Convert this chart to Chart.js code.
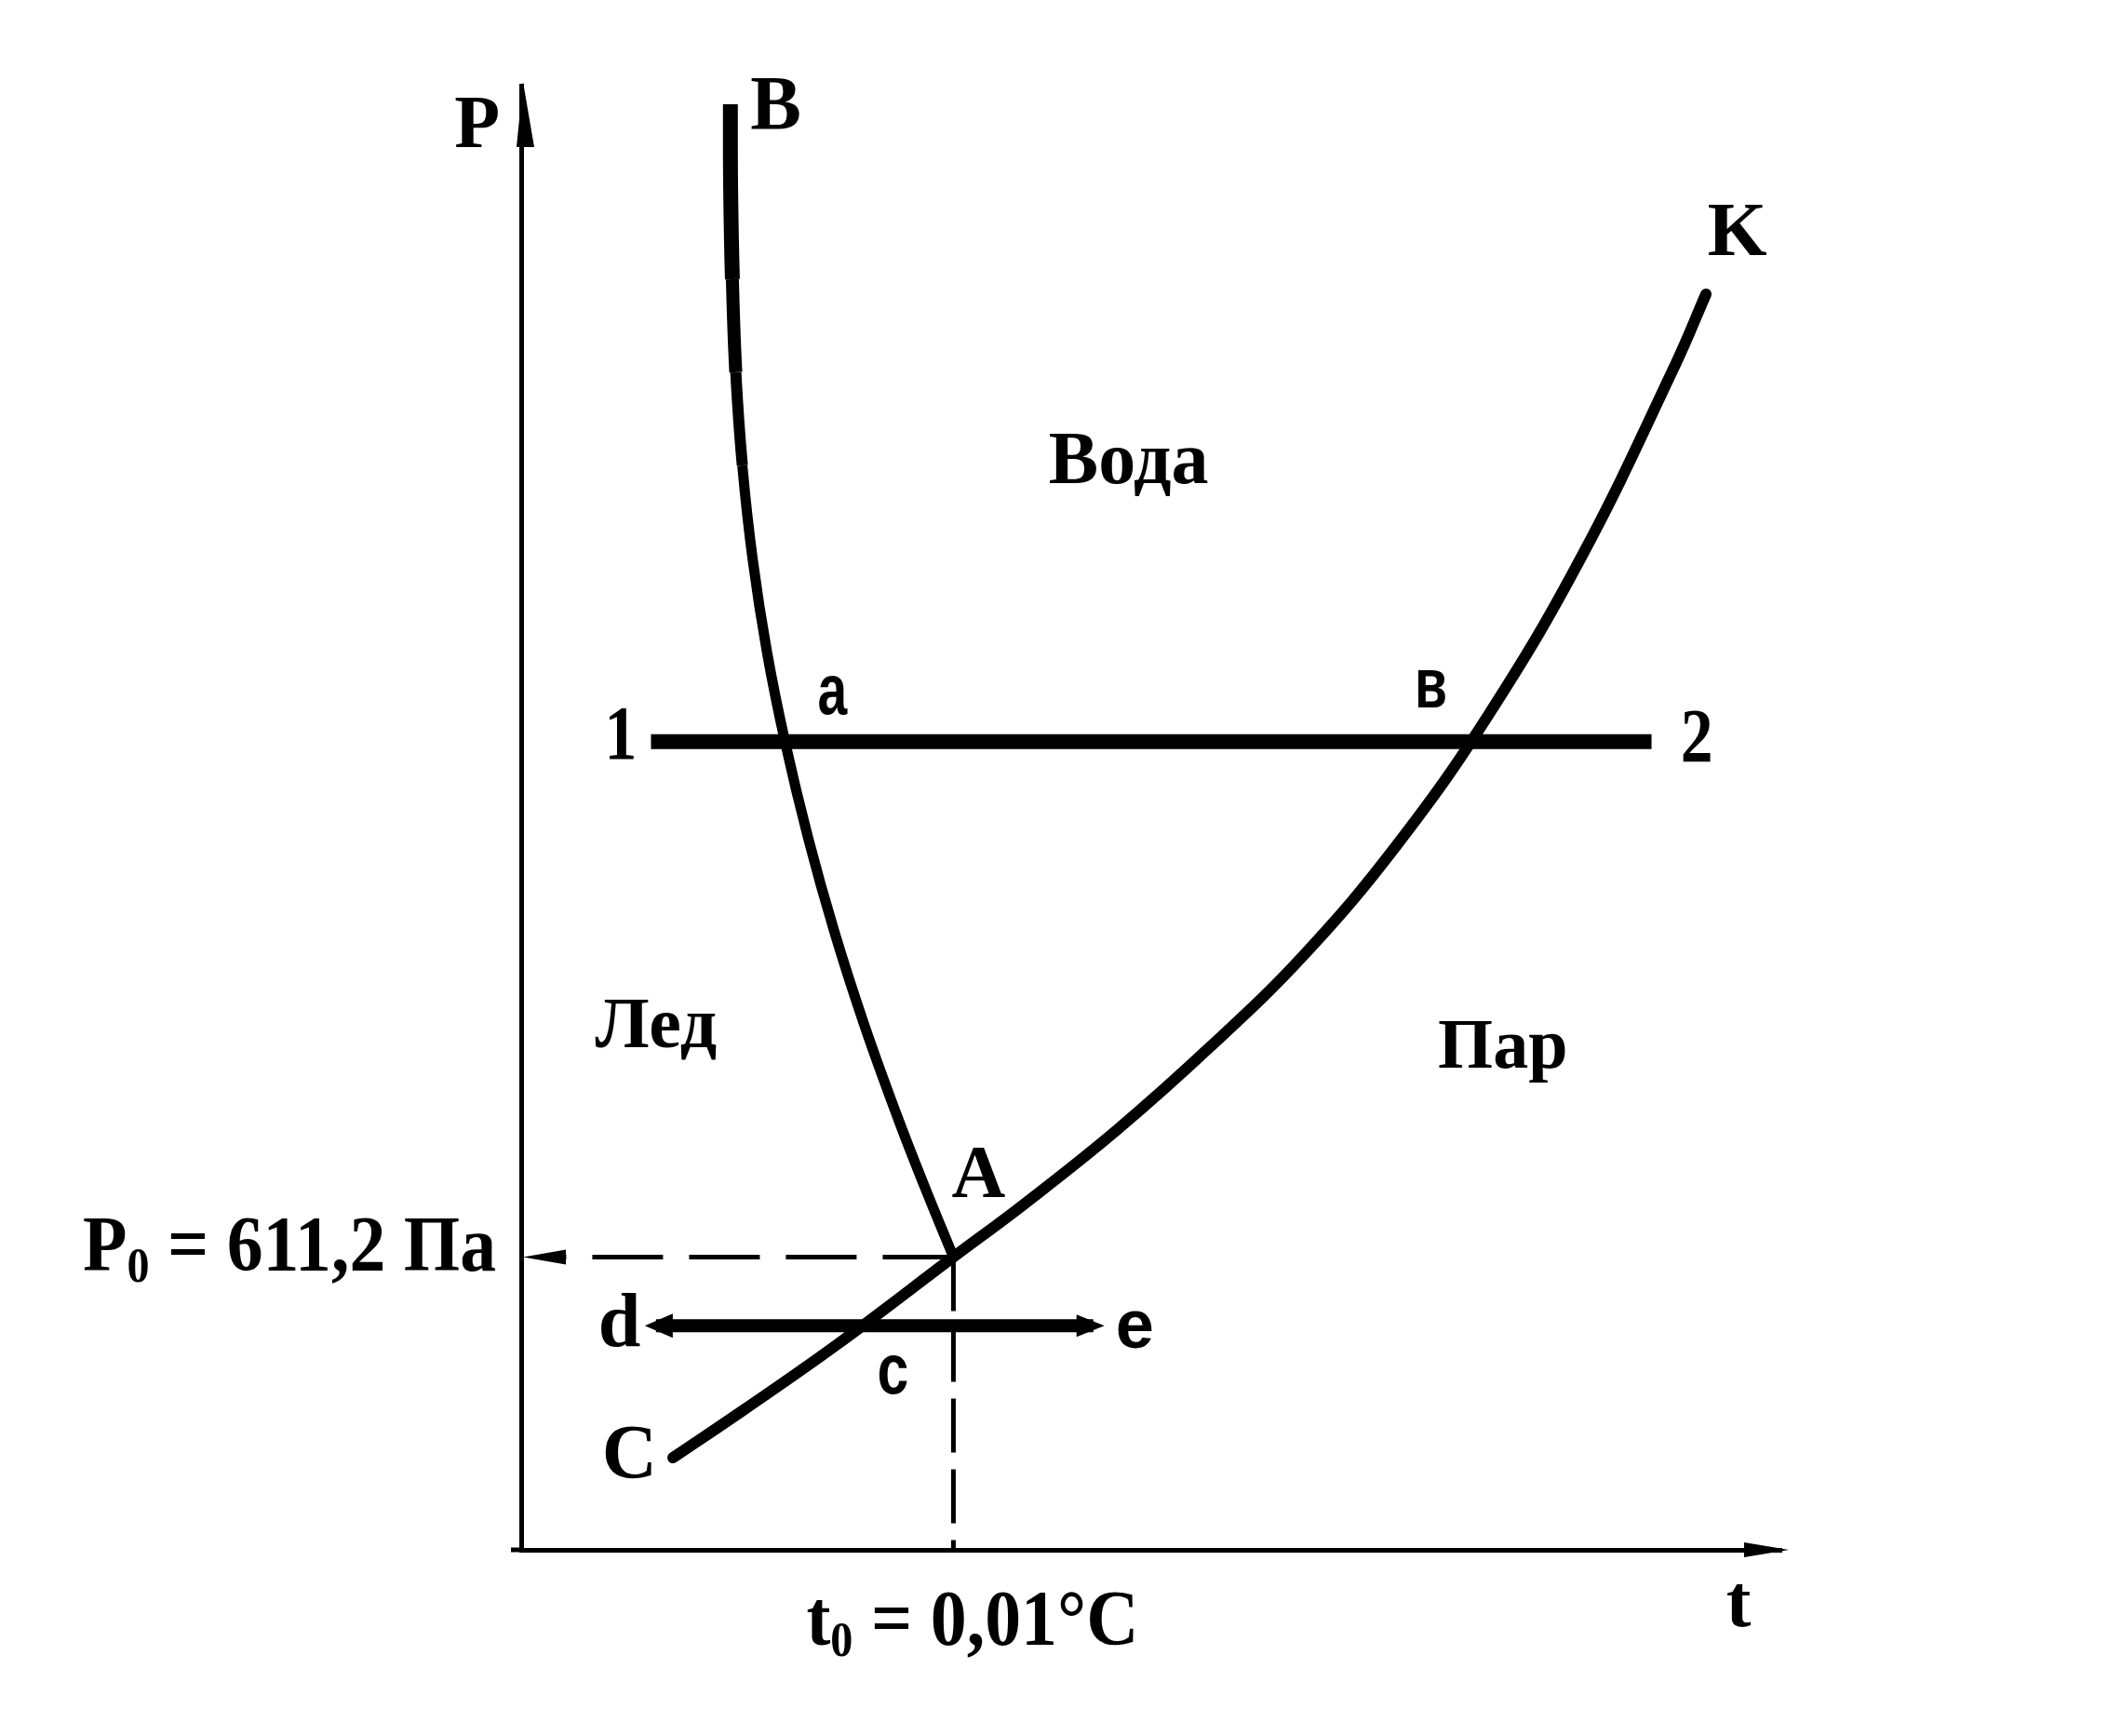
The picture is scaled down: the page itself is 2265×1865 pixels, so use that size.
<!DOCTYPE html>
<html>
<head>
<meta charset="utf-8">
<script src="https://cdn.jsdelivr.net/npm/chart.js@4.4.1/dist/chart.umd.min.js"></script>
<style>
  html, body { margin: 0; padding: 0; background: #fff; }
  #wrap { width: 2265px; height: 1865px; position: relative; }
</style>
</head>
<body>
<div id="wrap"><canvas id="phase"></canvas></div>
<script>
/* Фазовая диаграмма воды P–t (схема), условные единицы 0..100 по обеим осям */

// ── Данные ───────────────────────────────────────────────
// кривая AB: лёд ↔ вода (плавление)
const MELT_T = [16.60, 16.62, 16.76, 17.03, 17.55, 18.36, 19.50, 20.94, 22.77, 24.83, 27.20, 29.86, 32.02, 34.3];
const MELT_P = [98.73, 93.13, 86.78, 80.42, 74.06, 67.71, 61.35, 55.18, 48.63, 42.28, 35.92, 29.56, 24.79, 20.0];
// кривая CK: сублимация (C–A) и кипение (A–K)
const BOIL_T = [12.04, 17.73, 25.11, 34.3, 39.88, 47.27, 54.65, 62.04, 69.42, 76.81, 84.19, 91.58, 94.02];
const BOIL_P = [6.29, 9.60, 14.05, 20.0, 23.59, 28.67, 34.33, 40.56, 48.06, 57.09, 67.90, 80.93, 85.76];
// тройная точка A
const TRIPLE_T = 34.3;
const TRIPLE_P = 20.0;
// изобара 1–2 и изобара d–e
const ISOBAR_HI_T = [10.3, 89.7];
const ISOBAR_HI_P = 55.2;
const ISOBAR_LO_T = [10.7, 45.4];
const ISOBAR_LO_P = 15.3;
// пунктир P0 (от A к оси P) и t0 (от A к оси t)
const P0_LINE_T = [TRIPLE_T, 3.0];
const T0_LINE_P = [TRIPLE_P, 0];

const INK   = '#000';
const SERIF = '"Liberation Serif", "Times New Roman", serif';
const SANS  = '"Liberation Sans", Arial, sans-serif';

// подписи: координаты в единицах осей
const LABELS = [
  { text: 'P',    t: -3.5,  p: 97.1, font: `bold 80px ${SERIF}` },
  { text: 'B',    t: 20.2,  p: 98.4, font: `bold 82px ${SERIF}` },
  { text: 'K',    t: 96.5,  p: 89.8, font: `bold 82px ${SERIF}` },
  { text: 'Вода', t: 48.2,  p: 74.2, font: `bold 80px ${SERIF}` },
  { text: 'Лед',  t: 10.7,  p: 35.6, font: `bold 78px ${SERIF}` },
  { text: 'Пар',  t: 77.9,  p: 34.2, font: `bold 76px ${SERIF}` },
  { text: 'а',    t: 24.7,  p: 58.9, font: `bold 76px ${SANS}`, sx: 0.75, dy: 8 },
  { text: 'в',    t: 72.2,  p: 59.4, font: `bold 76px ${SANS}`, sx: 0.75, dy: 8 },
  { text: '1',    t: 7.9,   p: 55.4, font: `bold 82px ${SERIF}`, sx: 0.85 },
  { text: '2',    t: 93.3,  p: 55.2, font: `bold 82px ${SERIF}`, sx: 0.85 },
  { text: 'A',    t: 36.3,  p: 25.4, font: `bold 80px ${SERIF}` },
  { text: 'd',    t: 7.8,   p: 15.5, font: `bold 82px ${SERIF}`, dy: 4 },
  { text: 'e',    t: 48.7,  p: 15.6, font: `bold 74px ${SANS}`, dy: 8 },
  { text: 'c',    t: 29.5,  p: 12.5, font: `bold 76px ${SANS}`, sx: 0.8, dy: 8 },
  { text: 'C',    t: 8.6,   p: 6.3,  font: `bold 82px ${SERIF}` },
  { text: 't',    t: 96.6,  p: -3.9, font: `bold 80px ${SERIF}` },
];

const pts = (xs, ys) => xs.map((v, i) => ({ x: v, y: Array.isArray(ys) ? ys[i] : ys }));

function fillPoly(ctx, list) {
  ctx.beginPath();
  ctx.moveTo(list[0][0], list[0][1]);
  for (let i = 1; i < list.length; i++) ctx.lineTo(list[i][0], list[i][1]);
  ctx.closePath();
  ctx.fill();
}

// горизонтальная стрелка: dir = -1 влево, +1 вправо
function arrowH(ctx, tipX, tipY, dir, len, half) {
  fillPoly(ctx, [[tipX, tipY], [tipX - dir * len, tipY - half], [tipX - dir * len, tipY + half]]);
}

function drawLabel(ctx, l, px, py) {
  ctx.save();
  ctx.translate(px, py + (l.dy || 0));
  ctx.scale(l.sx || 1, 1);
  ctx.font = l.font;
  ctx.textAlign = 'center';
  ctx.textBaseline = 'middle';
  ctx.fillText(l.text, 0, 0);
  ctx.restore();
}

// текст с нижним индексом, подогнанный по ширине
function drawIndexed(ctx, parts, left, baseY, size, width) {
  ctx.save();
  const fonts = parts.map(([, sub]) => `bold ${sub ? Math.round(size * 0.62) : size}px ${SERIF}`);
  const widths = parts.map(([s], i) => { ctx.font = fonts[i]; return ctx.measureText(s).width; });
  const total = widths.reduce((a, b) => a + b, 0);
  ctx.translate(left, baseY);
  ctx.scale(width / total, 1);
  ctx.textAlign = 'left';
  ctx.textBaseline = 'alphabetic';
  let cx = 0;
  parts.forEach(([s, sub], i) => {
    ctx.font = fonts[i];
    ctx.fillText(s, cx, sub ? size * 0.14 : 0);
    cx += widths[i];
  });
  ctx.restore();
}

const diagramPlugin = {
  id: 'diagram',
  afterDraw(chart) {
    const { ctx, chartArea: a, scales: { x, y } } = chart;
    ctx.save();
    ctx.fillStyle = INK;
    ctx.strokeStyle = INK;

    // ось t чуть заходит левее оси P
    ctx.lineWidth = 5;
    ctx.beginPath();
    ctx.moveTo(a.left - 11, a.bottom);
    ctx.lineTo(a.left, a.bottom);
    ctx.stroke();

    // стрелки осей
    fillPoly(ctx, [[a.left + 2, a.top - 4], [a.left + 14, a.top + 66], [a.left - 5, a.top + 66]]);
    arrowH(ctx, a.right + 8, a.bottom, 1, 48, 8);

    // стрелки d ← → e
    const yLo = y.getPixelForValue(ISOBAR_LO_P);
    arrowH(ctx, x.getPixelForValue(ISOBAR_LO_T[0]) - 12, yLo, -1, 30, 13);
    arrowH(ctx, x.getPixelForValue(ISOBAR_LO_T[1]) + 12, yLo, 1, 30, 12);

    // стрелка пунктира P0 к оси
    const yP0 = y.getPixelForValue(TRIPLE_P);
    arrowH(ctx, a.left + 2, yP0, -1, 46, 8);

    // подписи
    LABELS.forEach(l => drawLabel(ctx, l, x.getPixelForValue(l.t), y.getPixelForValue(l.p)));

    // P0 = 611,2 Па  и  t0 = 0,01°C
    drawIndexed(ctx, [['P', false], ['0', true], [' = 611,2 Па', false]],
      a.left - 471, yP0 + 15, 84, 444);
    const xT0 = x.getPixelForValue(TRIPLE_T);
    drawIndexed(ctx, [['t', false], ['0', true], [' = 0,01°C', false]],
      xT0 - 158, a.bottom + 102, 84, 357);

    ctx.restore();
  }
};

const lineDefaults = {
  showLine: true,
  pointRadius: 0,
  borderColor: INK,
  backgroundColor: INK,
  fill: false,
  clip: false,
};

new Chart(document.getElementById('phase'), {
  type: 'scatter',
  data: {
    datasets: [
      { ...lineDefaults, label: 'AB', data: pts(MELT_T, MELT_P), borderWidth: 11,
        tension: 0.4, borderCapStyle: 'butt', borderJoinStyle: 'round',
        segment: { borderWidth: c => (c.p0.parsed.y > 90 ? 16 : c.p0.parsed.y > 85 ? 14 : c.p0.parsed.y > 78 ? 12 : 11) } },
      { ...lineDefaults, label: 'CK', data: pts(BOIL_T, BOIL_P), borderWidth: 12,
        tension: 0.4, borderCapStyle: 'round', borderJoinStyle: 'round' },
      { ...lineDefaults, label: '1-2', data: pts(ISOBAR_HI_T, ISOBAR_HI_P), borderWidth: 16, borderCapStyle: 'butt' },
      { ...lineDefaults, label: 'd-e', data: pts(ISOBAR_LO_T, ISOBAR_LO_P), borderWidth: 14, borderCapStyle: 'butt' },
      { ...lineDefaults, label: 'P0', data: pts(P0_LINE_T, TRIPLE_P), borderWidth: 5, borderDash: [76, 28] },
      { ...lineDefaults, label: 't0', data: T0_LINE_P.map(p => ({ x: TRIPLE_T, y: p })), borderWidth: 5, borderDash: [58, 18] },
    ],
  },
  options: {
    responsive: true,
    maintainAspectRatio: false,
    animation: false,
    devicePixelRatio: 1,
    layout: { padding: { left: 560, right: 351, top: 92, bottom: 200 } },
    plugins: { legend: { display: false }, tooltip: { enabled: false } },
    scales: {
      x: {
        type: 'linear', min: 0, max: 100,
        grid: { display: false, drawTicks: false },
        ticks: { display: false },
        border: { display: true, color: INK, width: 5 },
        afterFit: s => { s.height = 0; },
      },
      y: {
        type: 'linear', min: 0, max: 100,
        grid: { display: false, drawTicks: false },
        ticks: { display: false },
        border: { display: true, color: INK, width: 5 },
        afterFit: s => { s.width = 0; },
      },
    },
  },
  plugins: [diagramPlugin],
});
</script>
</body>
</html>
